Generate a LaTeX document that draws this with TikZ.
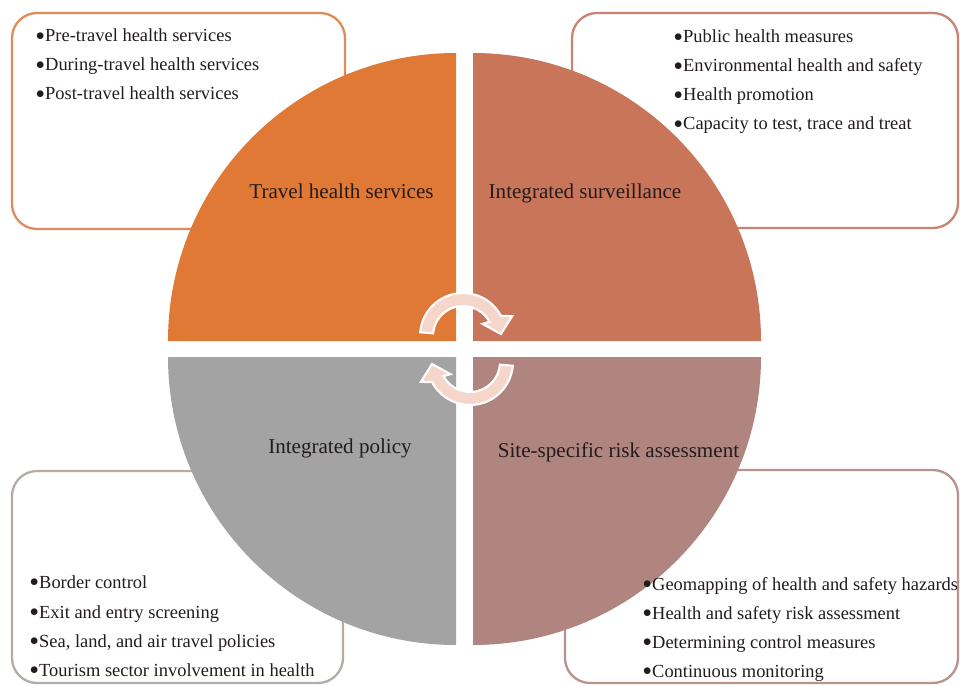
\documentclass[tikz,border=0pt]{standalone}
\usepackage{fontspec}
\setmainfont{Liberation Serif}
\usepackage{tkz-euclide}
\usepackage{tikz}
\usepackage{amsmath}

\definecolor{thsorange}{RGB}{224,121,53}
\definecolor{survred}{RGB}{200,117,89}
\definecolor{policygray}{RGB}{163,163,163}
\definecolor{riskmauve}{RGB}{176,133,128}
\definecolor{thsline}{RGB}{221,140,92}
\definecolor{survline}{RGB}{200,132,112}
\definecolor{policyline}{RGB}{180,172,166}
\definecolor{riskline}{RGB}{184,146,140}
\definecolor{arrowpink}{RGB}{246,214,203}
\definecolor{textdark}{RGB}{35,28,28}
\newcommand{\itemdot}{\raisebox{-1.9pt}{\fontsize{16}{12}\selectfont•}}

\begin{document}
\begin{tikzpicture}[
    item/.style={anchor=base west, inner sep=0pt, text=textdark, font=\fontsize{10.5}{12}\selectfont},
    quadlabel/.style={anchor=base, inner sep=0pt, text=textdark, font=\fontsize{12}{14}\selectfont},
    listbox/.style={rounded corners=0.5cm, line width=1.3pt, fill=white},
    cyclearrow/.style={fill=arrowpink, draw=white, line width=1.2pt}]
    \useasboundingbox (0,0) rectangle (19.2,13.7);
    \tkzDefPoints{9.12/6.88/A,9.46/6.88/B,9.12/6.56/C,9.46/6.56/D}
    \tkzDefPoints{9.26/6.98/E,9.40/6.46/F}
    % boxes behind the circle
    \draw[listbox, draw=thsline] (0.24,9.12) rectangle (6.90,13.44);
    \draw[listbox, draw=survline] (11.44,9.14) rectangle (19.16,13.44);
    \draw[listbox, draw=policyline] (0.24,0.04) rectangle (6.86,4.28);
    \draw[listbox, draw=riskline] (11.30,0.04) rectangle (19.16,4.30);
    % four quarters
    \fill[thsorange] (A) -- ++(0,5.76) arc[start angle=90, end angle=180, radius=5.76] -- cycle;
    \fill[survred] (B) -- ++(5.76,0) arc[start angle=0, end angle=90, radius=5.76] -- cycle;
    \fill[policygray] (C) -- ++(-5.76,0) arc[start angle=180, end angle=270, radius=5.76] -- cycle;
    \fill[riskmauve] (D) -- ++(0,-5.76) arc[start angle=270, end angle=360, radius=5.76] -- cycle;
    % the two turning arrows
    \begin{scope}[shift={(E)}]
        \filldraw[cyclearrow] (175:0.86) arc[start angle=175, end angle=28, radius=0.86]
            -- (22:1.06) -- (3:0.76) -- (32:0.46) -- (28:0.60)
            arc[start angle=28, end angle=175, radius=0.60] -- cycle;
    \end{scope}
    \begin{scope}[shift={(F)}, rotate=180]
        \filldraw[cyclearrow] (175:0.86) arc[start angle=175, end angle=28, radius=0.86]
            -- (22:1.06) -- (3:0.76) -- (32:0.46) -- (28:0.60)
            arc[start angle=28, end angle=175, radius=0.60] -- cycle;
    \end{scope}
    % quarter labels
    \node[quadlabel] (ths) at (6.83,9.74) {Travel health services};
    \node[quadlabel] (surv) at (11.70,9.74) {Integrated surveillance};
    \node[quadlabel] (policy) at (6.80,4.64) {Integrated policy};
    \node[quadlabel] (risk) at (12.37,4.56) {Site-specific risk assessment};
    % travel health services
    \node[item] (ths1) at (0.70,12.86) {\itemdot Pre-travel health services};
    \node[item] (ths2) at (0.70,12.28) {\itemdot During-travel health services};
    \node[item] (ths3) at (0.70,11.70) {\itemdot Post-travel health services};
    % integrated surveillance
    \node[item] (surv1) at (13.46,12.84) {\itemdot Public health measures};
    \node[item] (surv2) at (13.46,12.26) {\itemdot Environmental health and safety};
    \node[item] (surv3) at (13.46,11.68) {\itemdot Health promotion};
    \node[item] (surv4) at (13.46,11.10) {\itemdot Capacity to test, trace and treat};
    % integrated policy
    \node[item] (policy1) at (0.58,1.94) {\itemdot Border control};
    \node[item] (policy2) at (0.58,1.34) {\itemdot Exit and entry screening};
    \node[item] (policy3) at (0.58,0.76) {\itemdot Sea, land, and air travel policies};
    \node[item] (policy4) at (0.58,0.18) {\itemdot Tourism sector involvement in health};
    % site-specific risk assessment
    \node[item] (risk1) at (12.84,1.90) {\itemdot Geomapping of health and safety hazards};
    \node[item] (risk2) at (12.84,1.31) {\itemdot Health and safety risk assessment};
    \node[item] (risk3) at (12.84,0.73) {\itemdot Determining control measures};
    \node[item] (risk4) at (12.84,0.16) {\itemdot Continuous monitoring};
\end{tikzpicture}
\end{document}
